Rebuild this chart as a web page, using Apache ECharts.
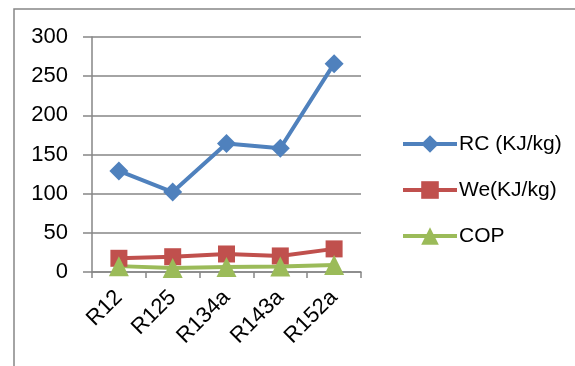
<!DOCTYPE html>
<html>
<head>
<meta charset="utf-8">
<script src="https://cdn.jsdelivr.net/npm/echarts@6/dist/echarts.min.js"></script>
<style>
  html, body { margin: 0; padding: 0; background: #fff; }
  #chart { width: 575px; height: 366px; }
</style>
</head>
<body>
<div id="chart"></div>
<script>
// Refrigerant comparison: refrigerating capacity, compressor work and COP
const refrigerants = ['R12', 'R125', 'R134a', 'R143a', 'R152a'];
const rcValues = [129, 102, 164, 158, 266];
const weValues = [17.5, 19.5, 23, 20.5, 29.5];
const copValues = [7.5, 5, 6.5, 7, 9];
const yTicks = { min: 0, max: 300, step: 50 };

const FONT = 'Liberation Sans, Arial, sans-serif';
const GRID_GRAY = '#868686';

const chart = echarts.init(document.getElementById('chart'), null, { renderer: 'canvas' });

function lineSeries(name, data, color, symbol, size) {
  return {
    name: name,
    type: 'line',
    data: data,
    symbol: symbol,
    symbolSize: size,
    showAllSymbol: true,
    lineStyle: { color: color, width: 4 },
    itemStyle: { color: color },
    emphasis: { disabled: true },
    animation: false
  };
}

chart.setOption({
  animation: false,
  graphic: [{
    type: 'rect',
    shape: { x: 14, y: 9, width: 800, height: 600 },
    style: { fill: 'none', stroke: GRID_GRAY, lineWidth: 1.5 },
    silent: true
  }],
  grid: { left: 92, right: 214, top: 37, bottom: 94, containLabel: false },
  legend: {
    orient: 'vertical',
    left: 396,
    top: 128,
    itemWidth: 54,
    itemHeight: 22,
    itemGap: 24,
    lineStyle: { width: 4 },
    textStyle: { fontFamily: FONT, fontSize: 21, color: '#000', lineHeight: 22, padding: [0, 0, 0, -3] },
    data: ['RC (KJ/kg)', 'We(KJ/kg)', 'COP']
  },
  xAxis: {
    type: 'category',
    data: refrigerants,
    boundaryGap: true,
    axisLine: { lineStyle: { color: GRID_GRAY, width: 1.5 } },
    axisTick: { show: true, length: 6, alignWithLabel: false, lineStyle: { color: GRID_GRAY, width: 1.5 } },
    axisLabel: { rotate: 45, margin: 22, fontFamily: FONT, fontSize: 22, color: '#000' }
  },
  yAxis: {
    type: 'value',
    min: yTicks.min,
    max: yTicks.max,
    interval: yTicks.step,
    axisLine: { show: true, lineStyle: { color: GRID_GRAY, width: 1.5 } },
    axisTick: { show: true, length: 9, lineStyle: { color: GRID_GRAY, width: 1.5 } },
    splitLine: { lineStyle: { color: GRID_GRAY, width: 1.5 } },
    axisLabel: { margin: 24, fontFamily: FONT, fontSize: 22, color: '#000' }
  },
  series: [
    lineSeries('RC (KJ/kg)', rcValues, '#4F81BD', 'diamond', 19),
    lineSeries('We(KJ/kg)', weValues, '#C0504D', 'rect', 17),
    lineSeries('COP', copValues, '#9BBB59', 'triangle', 20)
  ]
});
</script>
</body>
</html>
